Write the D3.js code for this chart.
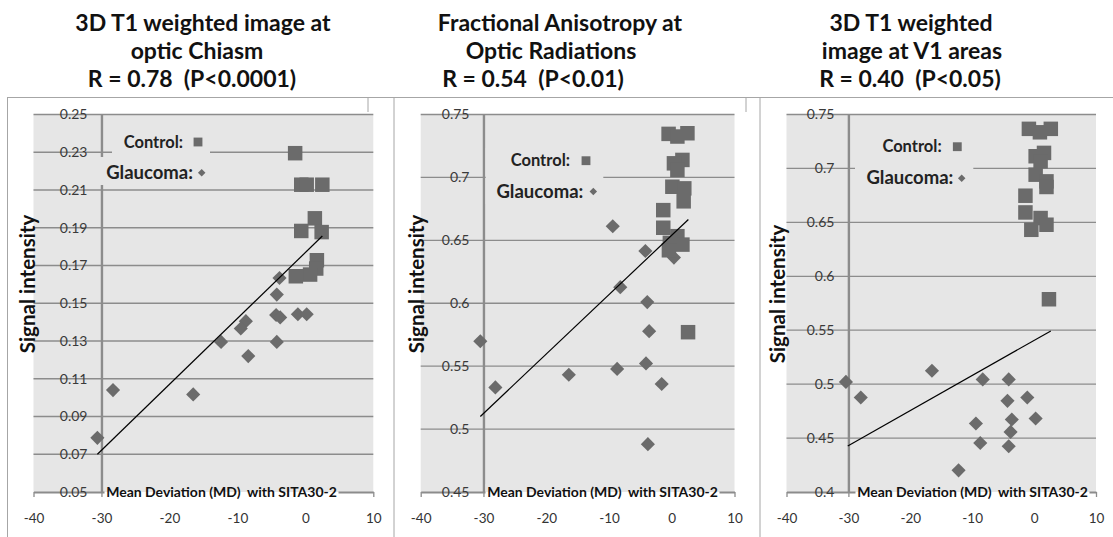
<!DOCTYPE html>
<html>
<head>
<meta charset="utf-8">
<script src="https://cdn.jsdelivr.net/npm/d3@7"></script>
<style>
body { margin: 0; background: #fff; }
svg { display: block; font-family: Lato, "Open Sans", sans-serif; }
text { white-space: pre; }
</style>
</head>
<body>
<svg width="1113" height="537"></svg>
<script>
// ---- data ----
var xTicks = [-40, -30, -20, -10, 0, 10];
var xTitle = "Mean Deviation (MD)  with SITA30-2";
var yTitle = "Signal intensity";

var chiasmTitle = ["3D T1 weighted image at", "optic Chiasm", "R = 0.78  (P<0.0001)"];
var chiasmTicks = [0.05, 0.07, 0.09, 0.11, 0.13, 0.15, 0.17, 0.19, 0.21, 0.23, 0.25];
var chiasmControl = [[-1.5, 0.2295], [-0.6, 0.2128], [0.2, 0.2128], [2.5, 0.2128], [-0.6, 0.1883],
    [1.4, 0.195], [2.4, 0.1877], [1.7, 0.1728], [1.6, 0.1684], [0.7, 0.1652], [-1.4, 0.1643]];
var chiasmGlaucoma = [[-3.8, 0.1634], [-4.2, 0.1546], [-4.3, 0.1438], [-3.7, 0.1425], [-1.1, 0.1442],
    [0.2, 0.1442], [-8.75, 0.1405], [-9.5, 0.1366], [-12.4, 0.1295], [-4.2, 0.1295], [-8.4, 0.122],
    [-28.3, 0.104], [-16.5, 0.1017], [-30.6, 0.0787]];
var chiasmTrend = [[-30.6, 0.070], [2.5, 0.1856]];

var faTitle = ["Fractional Anisotropy at", "Optic Radiations", "R = 0.54  (P<0.01)"];
var faTicks = [0.45, 0.5, 0.55, 0.6, 0.65, 0.7, 0.75];
var faControl = [[-0.5, 0.7346], [0.9, 0.7325], [2.5, 0.7351], [1.7, 0.7139], [0.35, 0.7112],
    [0.9, 0.706], [0.1, 0.6926], [2.0, 0.6913], [1.9, 0.681], [-1.35, 0.674], [-1.35, 0.66],
    [0.9, 0.6533], [1.7, 0.6466], [-0.3, 0.648], [-0.45, 0.6421], [2.6, 0.577]];
var faGlaucoma = [[-9.4, 0.6612], [-4.2, 0.6415], [0.35, 0.6363], [-8.2, 0.6128], [-3.9, 0.6009],
    [-3.6, 0.5778], [-4.1, 0.5522], [-8.7, 0.5478], [-16.4, 0.5432], [-1.6, 0.5358],
    [-30.5, 0.5698], [-28.1, 0.5331], [-3.8, 0.488]];
var faTrend = [[-30.5, 0.51], [2.65, 0.6666]];

var v1Title = ["3D T1 weighted", "image at V1 areas", "R = 0.40  (P<0.05)"];
var v1Ticks = [0.4, 0.45, 0.5, 0.55, 0.6, 0.65, 0.7, 0.75];
var v1Control = [[-0.84, 0.7367], [0.94, 0.7335], [2.7, 0.7367], [1.6, 0.7144], [0.25, 0.7113],
    [1.05, 0.7066], [0.25, 0.6942], [2.0, 0.688], [2.0, 0.6828], [-1.4, 0.6747], [-1.4, 0.6592],
    [1.05, 0.654], [2.0, 0.6478], [-0.45, 0.6431], [2.4, 0.5787]];
var v1Glaucoma = [[-30.4, 0.5021], [-28.0, 0.4876], [-16.5, 0.5124], [-8.3, 0.5044], [-4.1, 0.5044],
    [-4.3, 0.4845], [-1.1, 0.4876], [-3.6, 0.4672], [0.25, 0.4681], [-9.4, 0.4635], [-3.8, 0.4557],
    [-8.7, 0.4454], [-4.1, 0.4424], [-12.2, 0.4201]];
var v1Trend = [[-30.1, 0.4427], [2.7, 0.5493]];

// ---- layout ----
var svg = d3.select("svg");
var plotTop = 114.5, plotBottom = 492;
var bg = "#e6e6e6", gridColor = "#8c8c8c", markColor = "#6b6b6b";

var panels = [
    {title: chiasmTitle, titleX: [203, 197, 192], x0: 33.5, x1: 373.3, ticks: chiasmTicks,
     fmt: d3.format(".2f"), control: chiasmControl, glaucoma: chiasmGlaucoma, trend: chiasmTrend,
     yLab: [28, 284], xLab: 221.5,
     legend: {cx: 183, cy: 147.5, cmx: 198, cmy: 142, gx: 193, gy: 179, gmx: 201.7, gmy: 172.7,
              boxes: [[112, 134, 98, 23], [99, 157, 109, 28]]}},
    {title: faTitle, titleX: [560, 551, 533], x0: 420.7, x1: 734.5, ticks: faTicks,
     fmt: function(d) { return String(+d.toFixed(2)); }, control: faControl, glaucoma: faGlaucoma, trend: faTrend,
     yLab: [416.7, 284], xLab: 602.5,
     legend: {cx: 570, cy: 166, cmx: 586, cmy: 160.7, gx: 583.3, gy: 197.5, gmx: 593.3, gmy: 191.5,
              boxes: [[485.7, 148, 117.6, 56]]}},
    {title: v1Title, titleX: [911, 912, 910], x0: 786.5, x1: 1096, ticks: v1Ticks,
     fmt: function(d) { return String(+d.toFixed(2)); }, control: v1Control, glaucoma: v1Glaucoma, trend: v1Trend,
     yLab: [778.3, 294], xLab: 972.5,
     legend: {cx: 941.7, cy: 152, cmx: 957.3, cmy: 146.7, gx: 953.3, gy: 184, gmx: 961.7, gmy: 178.3,
              boxes: [[855, 134, 118.3, 58]]}}
];

// frame lines round the three cells
var frame = svg.append("g").attr("stroke", "#a6a6a6").attr("stroke-width", 1).attr("fill", "none");
frame.append("line").attr("x1", 7).attr("x2", 1113).attr("y1", 97.5).attr("y2", 97.5);
[[7.5, 537], [394, 537], [760, 537], [368, 112], [746, 112]].forEach(function(v) {
    frame.append("line").attr("x1", v[0]).attr("x2", v[0]).attr("y1", 97.5).attr("y2", v[1]);
});

var square = d3.symbol().type(d3.symbolSquare);

panels.forEach(function(p) {
    var x = d3.scaleLinear().domain([-40, 10]).range([p.x0, p.x1]);
    var y = d3.scaleLinear().domain(d3.extent(p.ticks)).range([plotBottom, plotTop]);
    var g = svg.append("g");

    // titles
    g.selectAll(".title").data(p.title).enter().append("text")
        .attr("x", function(d, i) { return p.titleX[i]; })
        .attr("y", function(d, i) { return 31 + i * 28; })
        .attr("text-anchor", "middle")
        .attr("font-weight", "bold").attr("font-size", 23).attr("fill", "#111")
        .text(function(d) { return d; });

    // plot area
    g.append("rect").attr("x", p.x0).attr("y", plotTop)
        .attr("width", p.x1 - p.x0).attr("height", plotBottom - plotTop).attr("fill", bg);

    // gridlines
    g.selectAll(".grid").data(p.ticks.slice(1)).enter().append("line")
        .attr("x1", p.x0).attr("x2", p.x1)
        .attr("y1", function(d) { return y(d); }).attr("y2", function(d) { return y(d); })
        .attr("stroke", gridColor).attr("stroke-width", 1.3);

    // x axis along the bottom
    var xAxis = g.append("g").attr("transform", "translate(0," + plotBottom + ")")
        .call(d3.axisBottom(x).tickValues(xTicks).tickSizeInner(5).tickSizeOuter(0).tickPadding(16)
            .tickFormat(function(d) { return String(d); }));
    xAxis.select(".domain").attr("stroke", gridColor).attr("stroke-width", 1.8);
    xAxis.selectAll("line").attr("stroke", gridColor).attr("stroke-width", 1.3);
    xAxis.selectAll("text").attr("font-family", "Lato, sans-serif").attr("font-size", 13.5).attr("fill", "#333");

    // y axis crossing at -30
    var yAxis = g.append("g").attr("transform", "translate(" + x(-30) + ",0)")
        .call(d3.axisLeft(y).tickValues(p.ticks).tickSize(0).tickPadding(14).tickFormat(p.fmt));
    yAxis.select(".domain").attr("stroke", gridColor).attr("stroke-width", 2.4);
    yAxis.selectAll("text").attr("font-family", "Lato, sans-serif").attr("font-size", 14).attr("fill", "#3a3a3a");

    // legend text boxes (they hide the lines behind them)
    var L = p.legend;
    L.boxes.forEach(function(b) {
        g.append("rect").attr("x", b[0]).attr("y", b[1]).attr("width", b[2]).attr("height", b[3]).attr("fill", bg);
    });
    g.append("text").attr("x", L.cx).attr("y", L.cy).attr("text-anchor", "end")
        .attr("font-weight", "bold").attr("font-size", 16.5).attr("fill", "#222").text("Control:");
    g.append("text").attr("x", L.gx).attr("y", L.gy).attr("text-anchor", "end")
        .attr("font-weight", "bold").attr("font-size", 18.5).attr("fill", "#222").text("Glaucoma:");
    g.append("path").attr("d", square.size(78)()).attr("fill", markColor)
        .attr("transform", "translate(" + L.cmx + "," + L.cmy + ")");
    g.append("path").attr("d", square.size(28)()).attr("fill", markColor)
        .attr("transform", "translate(" + L.gmx + "," + L.gmy + ") rotate(45)");

    // x axis title sits on the axis line
    var tw = 234;
    g.append("rect").attr("x", p.xLab - tw / 2).attr("y", 484).attr("width", tw).attr("height", 8).attr("fill", bg);
    g.append("rect").attr("x", p.xLab - tw / 2).attr("y", 492).attr("width", tw).attr("height", 8).attr("fill", "#fff");
    g.append("text").attr("x", p.xLab).attr("y", 497).attr("text-anchor", "middle")
        .attr("font-weight", "bold").attr("font-size", 14).attr("fill", "#111").text(xTitle);

    // y axis title
    g.append("text").attr("transform", "translate(" + p.yLab[0] + "," + p.yLab[1] + ") rotate(-90)")
        .attr("dy", "0.35em").attr("text-anchor", "middle")
        .attr("font-weight", "bold").attr("font-size", 20.5).attr("fill", "#111").text(yTitle);

    // markers: glaucoma diamonds, control squares
    g.selectAll(".glau").data(p.glaucoma).enter().append("path")
        .attr("d", square.size(100)())
        .attr("transform", function(d) { return "translate(" + x(d[0]) + "," + y(d[1]) + ") rotate(45)"; })
        .attr("fill", markColor);
    g.selectAll(".ctrl").data(p.control).enter().append("path")
        .attr("d", square.size(210)())
        .attr("transform", function(d) { return "translate(" + x(d[0]) + "," + y(d[1]) + ")"; })
        .attr("fill", markColor);

    // regression line
    g.append("path").datum(p.trend)
        .attr("d", d3.line().x(function(d) { return x(d[0]); }).y(function(d) { return y(d[1]); }))
        .attr("stroke", "#000").attr("stroke-width", 1.2).attr("fill", "none");
});
</script>
</body>
</html>
